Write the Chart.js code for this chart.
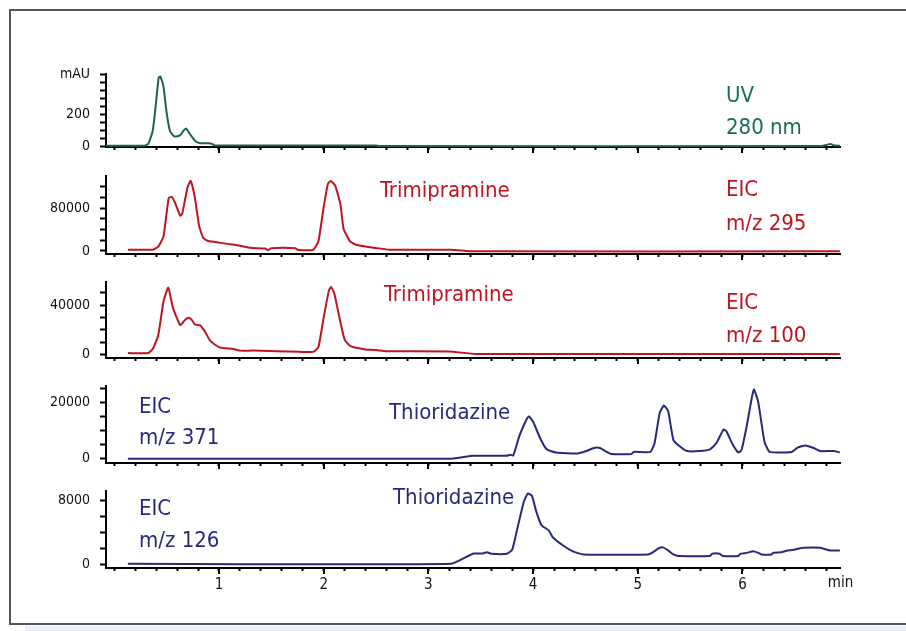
<!DOCTYPE html>
<html>
<head>
<meta charset="utf-8">
<script src="https://cdn.jsdelivr.net/npm/chart.js@4.4.1/dist/chart.umd.min.js"></script>
<style>
  html, body { margin: 0; padding: 0; background: #fff; }
  body { width: 906px; height: 631px; position: relative; overflow: hidden; }
  .frame { position: absolute; left: 9px; top: 9px; width: 940px; height: 616px; border: 2px solid #555; box-sizing: border-box; }
  .strip { position: absolute; left: 25px; top: 626px; width: 900px; height: 6px; background: #eaeff8; }
  canvas.panel { position: absolute; left: 10px; }
</style>
</head>
<body>
<div class="frame"></div>
<div class="strip"></div>
<canvas id="p1" class="panel"></canvas>
<canvas id="p2" class="panel"></canvas>
<canvas id="p3" class="panel"></canvas>
<canvas id="p4" class="panel"></canvas>
<canvas id="p5" class="panel"></canvas>
<script>
// UV 280 nm trace (mAU)
const uvTime = [-0.079, 0.29, 0.325, 0.367, 0.398, 0.424, 0.44, 0.468, 0.5, 0.532, 0.573, 0.628, 0.659, 0.685, 0.723, 0.771, 0.819, 0.898, 0.94, 0.96, 2.5, 2.53, 6.76, 6.8, 6.84, 6.88, 6.93];
const uvAbs = [5, 5, 17, 97, 269, 430, 436, 383, 212, 97, 63, 69, 97, 113, 78, 36, 21, 21, 15, 6, 6, 3, 3, 10, 15, 6, 5];

// EIC m/z 295
const eic295Time = [0.13, 0.37, 0.42, 0.47, 0.52, 0.55, 0.58, 0.63, 0.65, 0.70, 0.73, 0.77, 0.81, 0.85, 0.90, 1.0, 1.1, 1.2, 1.3, 1.44, 1.47, 1.5, 1.73, 1.75, 1.9, 1.95, 2.0, 2.04, 2.067, 2.11, 2.16, 2.19, 2.25, 2.31, 2.41, 2.51, 2.63, 3.22, 3.43, 6.93];
const eic295Counts = [2300, 2300, 8000, 27000, 99000, 100700, 90000, 65600, 70000, 119000, 130600, 99000, 47000, 24000, 18400, 15500, 12700, 9800, 5800, 4500, 1500, 5200, 5200, 2300, 2300, 18400, 81700, 125000, 130600, 122000, 87000, 41400, 18400, 11500, 8000, 5200, 2300, 2300, -800, -800];

// EIC m/z 100
const eic100Time = [0.13, 0.325, 0.37, 0.42, 0.47, 0.516, 0.56, 0.63, 0.675, 0.71, 0.74, 0.77, 0.82, 0.87, 0.91, 0.96, 1.01, 1.14, 1.2, 1.33, 1.77, 1.9, 1.95, 2.0, 2.05, 2.07, 2.1, 2.15, 2.2, 2.25, 2.3, 2.4, 2.5, 2.6, 3.2, 3.45, 6.93];
const eic100Counts = [1000, 1000, 4750, 15500, 43000, 54250, 38000, 23750, 28000, 29750, 28000, 24250, 23500, 18000, 11750, 8000, 5500, 4250, 3000, 3000, 2000, 2000, 6000, 30000, 52000, 54800, 50000, 30000, 12000, 7000, 5500, 4000, 3500, 2500, 2300, 300, 300];

// EIC m/z 371
const eic371Time = [0.13, 3.22, 3.43, 3.75, 3.78, 3.81, 3.87, 3.94, 3.96, 4.0, 4.07, 4.13, 4.22, 4.42, 4.51, 4.58, 4.64, 4.69, 4.75, 4.94, 4.96, 5.12, 5.16, 5.21, 5.25, 5.29, 5.34, 5.40, 5.47, 5.59, 5.69, 5.75, 5.82, 5.85, 5.90, 5.96, 5.99, 6.04, 6.09, 6.11, 6.15, 6.21, 6.26, 6.47, 6.53, 6.60, 6.68, 6.74, 6.87, 6.93];
const eic371Counts = [0, 0, 1000, 1000, 1400, 1100, 8200, 14200, 15000, 13100, 7100, 3300, 2200, 1860, 2700, 3800, 3800, 2700, 1640, 1640, 2400, 2400, 5500, 16400, 18900, 16900, 6600, 4400, 2700, 2700, 3300, 5500, 10400, 9500, 5500, 2200, 3000, 11500, 21900, 24600, 20200, 6000, 2400, 2400, 4000, 4700, 3800, 2700, 2700, 2200];

// EIC m/z 126
const eic126Time = [0.13, 3.22, 3.43, 3.51, 3.56, 3.6, 3.75, 3.80, 3.84, 3.91, 3.95, 3.99, 4.03, 4.08, 4.15, 4.19, 4.29, 4.38, 4.48, 5.10, 5.15, 5.20, 5.24, 5.29, 5.34, 5.39, 5.69, 5.71, 5.78, 5.81, 5.96, 5.98, 6.04, 6.10, 6.15, 6.18, 6.28, 6.29, 6.37, 6.42, 6.49, 6.55, 6.58, 6.74, 6.79, 6.84, 6.93];
const eic126Counts = [100, 100, 1380, 1380, 1540, 1350, 1350, 1850, 3960, 7800, 8880, 8580, 6650, 4920, 4270, 3380, 2350, 1650, 1270, 1270, 1580, 2040, 2150, 1770, 1270, 1080, 1080, 1350, 1350, 1080, 1080, 1350, 1460, 1650, 1460, 1270, 1270, 1460, 1540, 1730, 1850, 2040, 2115, 2115, 1920, 1770, 1770];

// y ticks and their labels
const uvTicks = [0, 50, 100, 150, 200, 250, 300, 350, 400, 450];
const uvTickLabels = ["0", "", "", "", "200", "", "", "", "", "mAU"];
const eic295Ticks = [0, 20000, 40000, 60000, 80000, 100000, 120000];
const eic295TickLabels = ["0", "", "", "", "80000", "", ""];
const eic100Ticks = [0, 10000, 20000, 30000, 40000, 50000];
const eic100TickLabels = ["0", "", "", "", "40000", ""];
const eic371Ticks = [0, 5000, 10000, 15000, 20000, 25000];
const eic371TickLabels = ["0", "", "", "", "20000", ""];
const eic126Ticks = [0, 2000, 4000, 6000, 8000];
const eic126TickLabels = ["0", "", "", "", "8000"];

// time axis
const timeMajor = [1, 2, 3, 4, 5, 6];
const timeMajorLabels = ["1", "2", "3", "4", "5", "6"];
const timeMin = -0.079;
const timeMax = 6.936;
const timeTicks = [];
for (let i = 0; i <= 34; i++) timeTicks.push(Math.round(i * 2) / 10);

const FONT = '"Liberation Sans Narrow", "DejaVu Sans Condensed", "Roboto", sans-serif';
const GREEN = "#17704a";
const RED = "#c01420";
const BLUE = "#28297c";

const CANVAS_LEFT = 10;
const CANVAS_W = 880;
const PAD_TOP = 12;
const XAXIS_H = 30;

const panels = [
  { id: "p1", top: 68, bottom: 147, min: -3, max: 450, t: uvTime, v: uvAbs, ticks: uvTicks, labels: uvTickLabels, color: "#1d6447", textColor: GREEN,
    texts: [{ s: "UV", x: 726, y: 102 }, { s: "280 nm", x: 726, y: 134 }] },
  { id: "p2", top: 170, bottom: 254, min: -5700, max: 139000, t: eic295Time, v: eic295Counts, ticks: eic295Ticks, labels: eic295TickLabels, color: RED, textColor: RED,
    texts: [{ s: "Trimipramine", x: 380, y: 197 }, { s: "EIC", x: 726, y: 196 }, { s: "m/z 295", x: 726, y: 230 }] },
  { id: "p3", top: 276, bottom: 358, min: -3000, max: 58500, t: eic100Time, v: eic100Counts, ticks: eic100Ticks, labels: eic100TickLabels, color: RED, textColor: RED,
    texts: [{ s: "Trimipramine", x: 384, y: 301 }, { s: "EIC", x: 726, y: 309 }, { s: "m/z 100", x: 726, y: 342 }] },
  { id: "p4", top: 380, bottom: 463, min: -1550, max: 25700, t: eic371Time, v: eic371Counts, ticks: eic371Ticks, labels: eic371TickLabels, color: BLUE, textColor: BLUE,
    texts: [{ s: "Thioridazine", x: 389, y: 419 }, { s: "EIC", x: 139, y: 413 }, { s: "m/z 371", x: 139, y: 444 }] },
  { id: "p5", top: 485, bottom: 568, min: -430, max: 9150, t: eic126Time, v: eic126Counts, ticks: eic126Ticks, labels: eic126TickLabels, color: BLUE, textColor: BLUE,
    texts: [{ s: "Thioridazine", x: 393, y: 504 }, { s: "EIC", x: 139, y: 515 }, { s: "m/z 126", x: 139, y: 547 }], bottomAxis: true },
];

const panelDecor = {
  id: "panelDecor",
  afterDraw(chart, args, opts) {
    const { ctx, chartArea, scales } = chart;
    ctx.save();
    ctx.strokeStyle = "#000";
    ctx.lineWidth = 2;
    timeMajor.forEach((t) => {
      const px = Math.round(scales.x.getPixelForValue(t));
      ctx.beginPath();
      ctx.moveTo(px, chartArea.bottom);
      ctx.lineTo(px, chartArea.bottom + 6);
      ctx.stroke();
    });
    ctx.fillStyle = opts.textColor;
    ctx.font = "22px " + FONT;
    ctx.textBaseline = "alphabetic";
    opts.texts.forEach((t) => ctx.fillText(t.s, t.x - CANVAS_LEFT, t.y - opts.canvasTop));
    if (opts.bottomAxis) {
      ctx.fillStyle = "#111";
      ctx.font = "15px " + FONT;
      ctx.textAlign = "center";
      ctx.textBaseline = "middle";
      ctx.fillText("min", chartArea.right, 583 - opts.canvasTop);
    }
    ctx.restore();
  },
};

panels.forEach((p) => {
  const canvas = document.getElementById(p.id);
  const canvasTop = p.top - PAD_TOP;
  canvas.width = CANVAS_W;
  canvas.height = p.bottom - p.top + PAD_TOP + XAXIS_H;
  canvas.style.top = canvasTop + "px";
  canvas.style.width = CANVAS_W + "px";
  canvas.style.height = canvas.height + "px";

  new Chart(canvas, {
    type: "line",
    data: {
      datasets: [
        {
          data: p.t.map((t, i) => ({ x: t, y: p.v[i] })),
          borderColor: p.color,
          borderWidth: 2,
          pointRadius: 0,
          tension: 0.15,
          fill: false,
        },
      ],
    },
    options: {
      responsive: false,
      animation: false,
      layout: { padding: { top: PAD_TOP, right: CANVAS_W - (840.5 - CANVAS_LEFT), left: 0, bottom: 0 } },
      plugins: {
        legend: { display: false },
        tooltip: { enabled: false },
        panelDecor: { texts: p.texts, textColor: p.textColor, canvasTop, bottomAxis: !!p.bottomAxis },
      },
      scales: {
        x: {
          type: "linear",
          min: timeMin,
          max: timeMax,
          afterBuildTicks: (s) => { s.ticks = timeTicks.map((v) => ({ value: v })); },
          afterFit: (s) => { s.height = XAXIS_H; },
          border: { display: true, color: "#000", width: 2 },
          grid: { drawOnChartArea: false, drawTicks: true, tickLength: 3, tickWidth: 2, tickColor: "#000" },
          ticks: {
            autoSkip: false,
            maxRotation: 0,
            padding: 5,
            color: "#111",
            font: { family: FONT, size: 15 },
            callback: (v) => {
              if (!p.bottomAxis) return "";
              const i = timeMajor.indexOf(Math.round(v * 10) / 10);
              return i >= 0 ? timeMajorLabels[i] : "";
            },
          },
        },
        y: {
          min: p.min,
          max: p.max,
          afterBuildTicks: (s) => { s.ticks = p.ticks.map((v) => ({ value: v })); },
          afterFit: (s) => { s.width = 96; },
          border: { display: true, color: "#000", width: 2 },
          grid: { drawOnChartArea: false, drawTicks: true, tickLength: 6, tickWidth: 2, tickColor: "#000" },
          ticks: {
            autoSkip: false,
            padding: 10,
            color: "#111",
            font: { family: FONT, size: 14 },
            callback: (v) => {
              const i = p.ticks.indexOf(v);
              return i >= 0 ? p.labels[i] : "";
            },
          },
        },
      },
    },
    plugins: [panelDecor],
  });
});
</script>
</body>
</html>
